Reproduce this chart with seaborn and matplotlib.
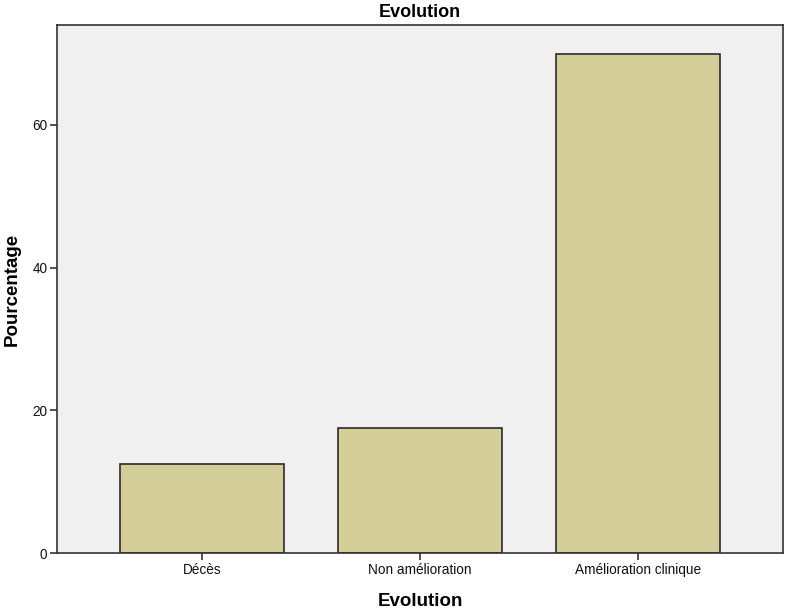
import matplotlib
matplotlib.use("Agg")
import matplotlib.pyplot as plt
import seaborn as sns
import pandas as pd

categories = ["Décès", "Non amélioration", "Amélioration clinique"]
percentages = [12.5, 17.5, 70.0]
y_ticks = [0, 20, 40, 60]

df = pd.DataFrame({"Evolution": categories, "Pourcentage": percentages})

sns.set_style("white")
plt.rcParams["font.family"] = ["Liberation Sans", "DejaVu Sans"]
plt.rcParams["text.color"] = "black"
plt.rcParams["axes.labelcolor"] = "black"

fig = plt.figure(figsize=(7.86, 6.10), dpi=100)
ax = fig.add_axes([0.0725, 0.0934, 0.9237, 0.8656])
ax.set_facecolor("#F0F0F0")

sns.barplot(data=df, x="Evolution", y="Pourcentage", order=categories,
            color="#D3CE97", edgecolor="#2b2b2b", linewidth=1.2,
            width=0.75, saturation=1, ax=ax)

ax.set_xlim(-0.665, 2.665)
ax.set_ylim(0, 74.0)
ax.set_yticks(y_ticks)
ax.set_yticklabels([str(t) for t in y_ticks])

for s in ax.spines.values():
    s.set_color("#333333")
    s.set_linewidth(1.2)

ax.tick_params(axis="both", which="both", direction="out", length=5, width=1.2,
               color="#333333", labelsize=9.8, labelcolor="#111111", pad=2,
               bottom=True, left=True)

ax.set_xlabel("Evolution", fontsize=13.5, fontweight="bold", labelpad=12, color="black")
ax.set_ylabel("Pourcentage", fontsize=13.5, fontweight="bold", labelpad=8, color="black")
ax.set_title("Evolution", fontsize=13, fontweight="bold", pad=6, color="black")

fig.savefig("out.png", dpi=100)
